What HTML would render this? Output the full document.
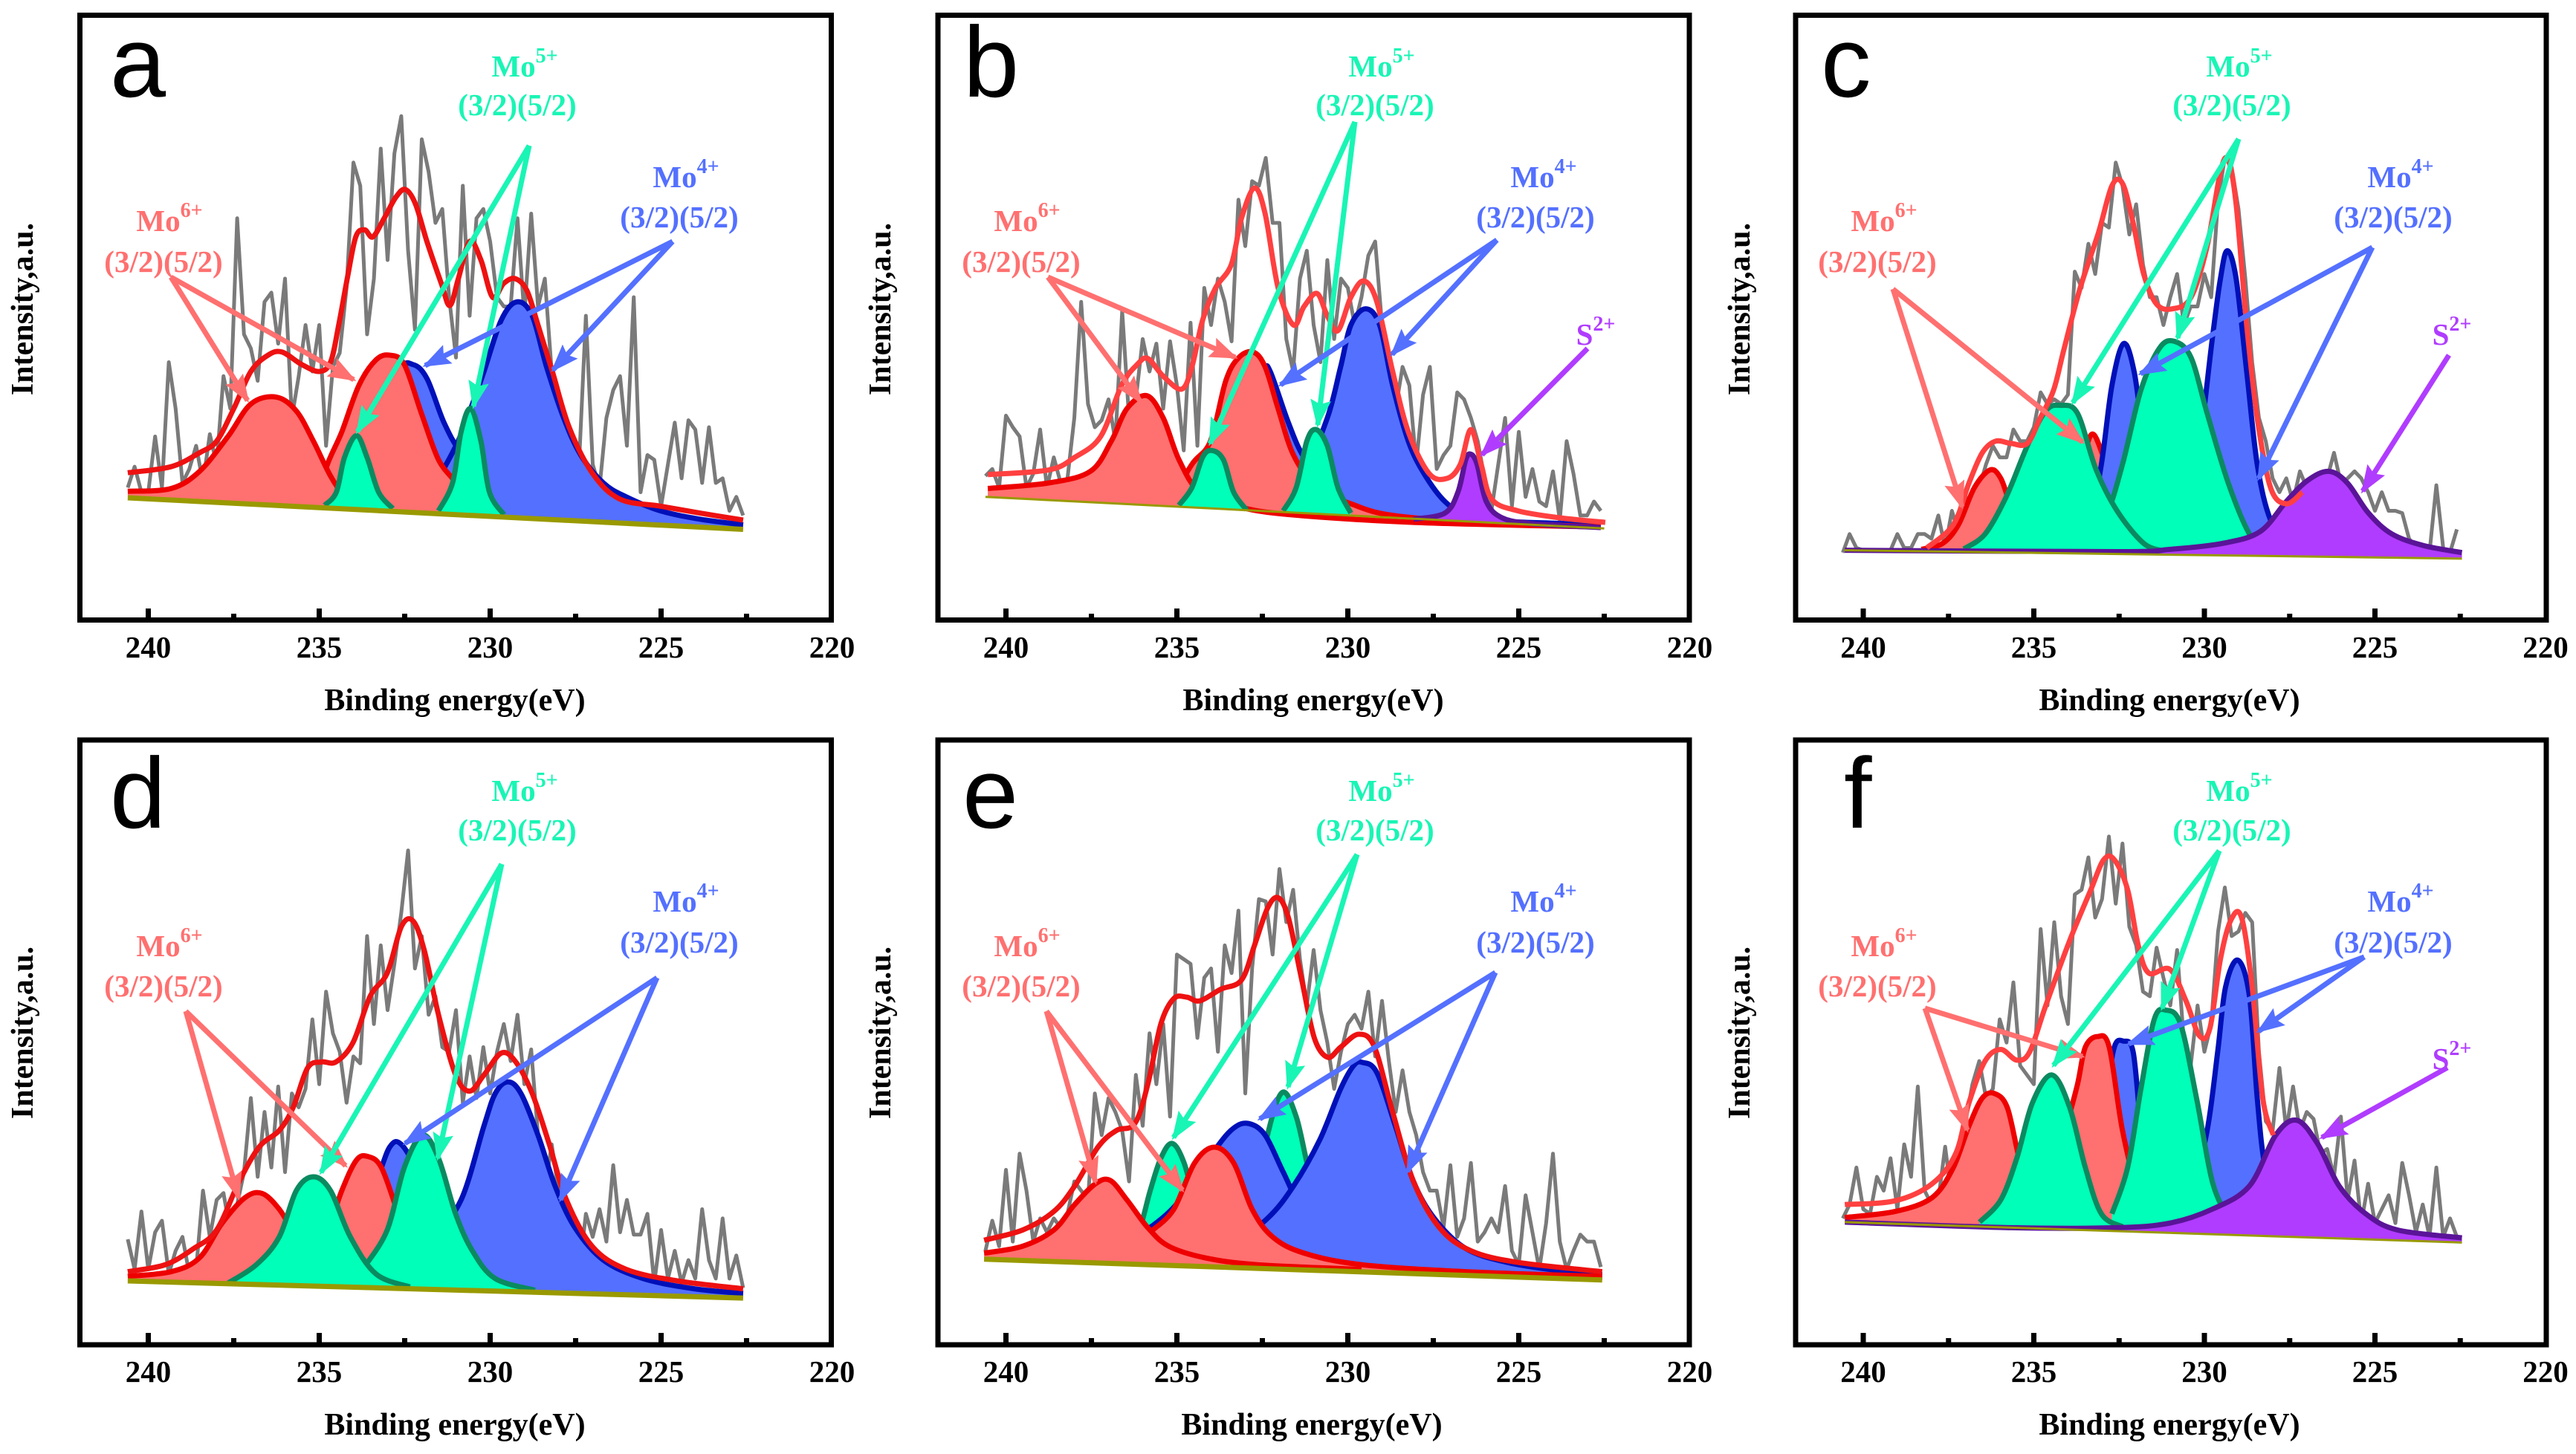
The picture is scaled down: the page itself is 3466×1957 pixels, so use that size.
<!DOCTYPE html>
<html lang="en">
<head>
<meta charset="utf-8">
<title>Mo 3d XPS spectra, panels a to f</title>
<style>
html,body{margin:0;padding:0;background:#fff}
svg{display:block}
text{font-family:"Liberation Serif",serif;font-weight:bold;font-size:41px}
.axis-title{font-size:42px}
.letter{font-family:"Liberation Sans",sans-serif;font-weight:normal;font-size:135px;fill:#000}
.sup{font-size:28px}
.m6{fill:#ff7070}.m5{fill:#19f5b5}.m4{fill:#5470ff}.s2{fill:#b03cff}
.frame{fill:none;stroke:#000;stroke-width:7}
.a6{stroke:#ff7070;stroke-width:7;marker-end:url(#head6)}
.a5{stroke:#19f5b5;stroke-width:7;marker-end:url(#head5)}
.a4{stroke:#5470ff;stroke-width:7;marker-end:url(#head4)}
.as{stroke:#b03cff;stroke-width:7;marker-end:url(#heads)}
</style>
</head>
<body>
<svg xmlns="http://www.w3.org/2000/svg" width="3466" height="1957" viewBox="0 0 3466 1957">
<defs>
<marker id="head6" markerUnits="userSpaceOnUse" viewBox="0 0 38 28" refX="34" refY="14" markerWidth="38" markerHeight="28" orient="auto"><path d="M0,0L38,14L0,28L6,14Z" fill="#ff7070"/></marker>
<marker id="head5" markerUnits="userSpaceOnUse" viewBox="0 0 38 28" refX="34" refY="14" markerWidth="38" markerHeight="28" orient="auto"><path d="M0,0L38,14L0,28L6,14Z" fill="#19f5b5"/></marker>
<marker id="head4" markerUnits="userSpaceOnUse" viewBox="0 0 38 28" refX="34" refY="14" markerWidth="38" markerHeight="28" orient="auto"><path d="M0,0L38,14L0,28L6,14Z" fill="#5470ff"/></marker>
<marker id="heads" markerUnits="userSpaceOnUse" viewBox="0 0 38 28" refX="34" refY="14" markerWidth="38" markerHeight="28" orient="auto"><path d="M0,0L38,14L0,28L6,14Z" fill="#b03cff"/></marker>
</defs>

<g>
<g id="marks-a"></g>
<rect class="frame" x="107.5" y="20.5" width="1011" height="814"/>
<g id="axis-a"></g>
<text class="letter" x="148" y="130">a</text>
<text class="axis-title" text-anchor="middle" x="612" y="956">Binding energy(eV)</text>
<text class="axis-title" text-anchor="middle" transform="translate(44 416) rotate(-90)">Intensity,a.u.</text>
<g>
<line class="a6" x1="230" y1="373" x2="333" y2="539"/><line class="a6" x1="230" y1="373" x2="476" y2="511"/>
<line class="a5" x1="712" y1="196" x2="481" y2="581"/><line class="a5" x1="712" y1="196" x2="637" y2="547"/>
<line class="a4" x1="905" y1="325" x2="572" y2="492"/><line class="a4" x1="905" y1="325" x2="744" y2="498"/>
</g>
<text class="m6" text-anchor="middle" x="228" y="311">Mo<tspan class="sup" dy="-19">6+</tspan></text>
<text class="m6" text-anchor="middle" x="220" y="366">(3/2)(5/2)</text>
<text class="m5" text-anchor="middle" x="706" y="103">Mo<tspan class="sup" dy="-19">5+</tspan></text>
<text class="m5" text-anchor="middle" x="696" y="155">(3/2)(5/2)</text>
<text class="m4" text-anchor="middle" x="923" y="252">Mo<tspan class="sup" dy="-19">4+</tspan></text>
<text class="m4" text-anchor="middle" x="914" y="306">(3/2)(5/2)</text>
</g>

<g>
<g id="marks-b"></g>
<rect class="frame" x="1262" y="20.5" width="1011" height="814"/>
<g id="axis-b"></g>
<text class="letter" x="1296" y="130">b</text>
<text class="axis-title" text-anchor="middle" x="1767" y="956">Binding energy(eV)</text>
<text class="axis-title" text-anchor="middle" transform="translate(1198 416) rotate(-90)">Intensity,a.u.</text>
<g>
<line class="a6" x1="1410" y1="373" x2="1535" y2="541"/><line class="a6" x1="1410" y1="373" x2="1662" y2="481"/>
<line class="a5" x1="1823" y1="164" x2="1628" y2="597"/><line class="a5" x1="1823" y1="164" x2="1773" y2="572"/>
<line class="a4" x1="2014" y1="323" x2="1723" y2="518"/><line class="a4" x1="2014" y1="323" x2="1873" y2="477"/>
<line class="as" x1="2136" y1="469" x2="1994" y2="612"/>
</g>
<text class="m6" text-anchor="middle" x="1382" y="311">Mo<tspan class="sup" dy="-19">6+</tspan></text>
<text class="m6" text-anchor="middle" x="1374" y="366">(3/2)(5/2)</text>
<text class="m5" text-anchor="middle" x="1859" y="103">Mo<tspan class="sup" dy="-19">5+</tspan></text>
<text class="m5" text-anchor="middle" x="1850" y="155">(3/2)(5/2)</text>
<text class="m4" text-anchor="middle" x="2077" y="252">Mo<tspan class="sup" dy="-19">4+</tspan></text>
<text class="m4" text-anchor="middle" x="2066" y="306">(3/2)(5/2)</text>
<text class="s2" text-anchor="middle" x="2147" y="464">S<tspan class="sup" dy="-19">2+</tspan></text>
</g>

<g>
<g id="marks-c"></g>
<rect class="frame" x="2416" y="20.5" width="1010" height="814"/>
<g id="axis-c"></g>
<text class="letter" x="2450" y="130">c</text>
<text class="axis-title" text-anchor="middle" x="2919" y="956">Binding energy(eV)</text>
<text class="axis-title" text-anchor="middle" transform="translate(2354 416) rotate(-90)">Intensity,a.u.</text>
<g>
<line class="a6" x1="2547" y1="389" x2="2640" y2="682"/><line class="a6" x1="2547" y1="389" x2="2802" y2="595"/>
<line class="a5" x1="3012" y1="187" x2="2789" y2="542"/><line class="a5" x1="3012" y1="187" x2="2930" y2="455"/>
<line class="a4" x1="3192" y1="333" x2="2880" y2="503"/><line class="a4" x1="3192" y1="333" x2="3039" y2="644"/>
<line class="as" x1="3295" y1="478" x2="3179" y2="661"/>
</g>
<text class="m6" text-anchor="middle" x="2535" y="311">Mo<tspan class="sup" dy="-19">6+</tspan></text>
<text class="m6" text-anchor="middle" x="2526" y="366">(3/2)(5/2)</text>
<text class="m5" text-anchor="middle" x="3013" y="103">Mo<tspan class="sup" dy="-19">5+</tspan></text>
<text class="m5" text-anchor="middle" x="3003" y="155">(3/2)(5/2)</text>
<text class="m4" text-anchor="middle" x="3230" y="252">Mo<tspan class="sup" dy="-19">4+</tspan></text>
<text class="m4" text-anchor="middle" x="3220" y="306">(3/2)(5/2)</text>
<text class="s2" text-anchor="middle" x="3299" y="464">S<tspan class="sup" dy="-19">2+</tspan></text>
</g>

<g>
<g id="marks-d"></g>
<rect class="frame" x="107.5" y="996" width="1011" height="814"/>
<g id="axis-d"></g>
<text class="letter" x="148" y="1114">d</text>
<text class="axis-title" text-anchor="middle" x="612" y="1931">Binding energy(eV)</text>
<text class="axis-title" text-anchor="middle" transform="translate(44 1390) rotate(-90)">Intensity,a.u.</text>
<g>
<line class="a6" x1="250" y1="1361" x2="321" y2="1612"/><line class="a6" x1="250" y1="1361" x2="465" y2="1569"/>
<line class="a5" x1="675" y1="1163" x2="432" y2="1578"/><line class="a5" x1="675" y1="1163" x2="589" y2="1559"/>
<line class="a4" x1="884" y1="1316" x2="545" y2="1539"/><line class="a4" x1="884" y1="1316" x2="754" y2="1615"/>
</g>
<text class="m6" text-anchor="middle" x="228" y="1287">Mo<tspan class="sup" dy="-19">6+</tspan></text>
<text class="m6" text-anchor="middle" x="220" y="1341">(3/2)(5/2)</text>
<text class="m5" text-anchor="middle" x="706" y="1078">Mo<tspan class="sup" dy="-19">5+</tspan></text>
<text class="m5" text-anchor="middle" x="696" y="1131">(3/2)(5/2)</text>
<text class="m4" text-anchor="middle" x="923" y="1227">Mo<tspan class="sup" dy="-19">4+</tspan></text>
<text class="m4" text-anchor="middle" x="914" y="1282">(3/2)(5/2)</text>
</g>

<g>
<g id="marks-e"></g>
<rect class="frame" x="1262" y="996" width="1011" height="814"/>
<g id="axis-e"></g>
<text class="letter" x="1295" y="1114">e</text>
<text class="axis-title" text-anchor="middle" x="1765" y="1931">Binding energy(eV)</text>
<text class="axis-title" text-anchor="middle" transform="translate(1198 1390) rotate(-90)">Intensity,a.u.</text>
<g>
<line class="a6" x1="1408" y1="1361" x2="1474" y2="1591"/><line class="a6" x1="1408" y1="1361" x2="1591" y2="1602"/>
<line class="a5" x1="1826" y1="1150" x2="1579" y2="1531"/><line class="a5" x1="1826" y1="1150" x2="1733" y2="1463"/>
<line class="a4" x1="2012" y1="1309" x2="1695" y2="1506"/><line class="a4" x1="2012" y1="1309" x2="1894" y2="1577"/>
</g>
<text class="m6" text-anchor="middle" x="1382" y="1287">Mo<tspan class="sup" dy="-19">6+</tspan></text>
<text class="m6" text-anchor="middle" x="1374" y="1341">(3/2)(5/2)</text>
<text class="m5" text-anchor="middle" x="1859" y="1078">Mo<tspan class="sup" dy="-19">5+</tspan></text>
<text class="m5" text-anchor="middle" x="1850" y="1131">(3/2)(5/2)</text>
<text class="m4" text-anchor="middle" x="2077" y="1227">Mo<tspan class="sup" dy="-19">4+</tspan></text>
<text class="m4" text-anchor="middle" x="2066" y="1282">(3/2)(5/2)</text>
</g>

<g>
<g id="marks-f"></g>
<rect class="frame" x="2416" y="996" width="1010" height="814"/>
<g id="axis-f"></g>
<text class="letter" x="2481" y="1114">f</text>
<text class="axis-title" text-anchor="middle" x="2919" y="1931">Binding energy(eV)</text>
<text class="axis-title" text-anchor="middle" transform="translate(2354 1390) rotate(-90)">Intensity,a.u.</text>
<g>
<line class="a6" x1="2590" y1="1357" x2="2647" y2="1521"/><line class="a6" x1="2590" y1="1357" x2="2802" y2="1422"/>
<line class="a5" x1="2986" y1="1145" x2="2763" y2="1434"/><line class="a5" x1="2986" y1="1145" x2="2909" y2="1357"/>
<line class="a4" x1="3181" y1="1288" x2="2864" y2="1405"/><line class="a4" x1="3181" y1="1288" x2="3039" y2="1388"/>
<line class="as" x1="3293" y1="1437" x2="3124" y2="1531"/>
</g>
<text class="m6" text-anchor="middle" x="2535" y="1287">Mo<tspan class="sup" dy="-19">6+</tspan></text>
<text class="m6" text-anchor="middle" x="2526" y="1341">(3/2)(5/2)</text>
<text class="m5" text-anchor="middle" x="3013" y="1078">Mo<tspan class="sup" dy="-19">5+</tspan></text>
<text class="m5" text-anchor="middle" x="3003" y="1131">(3/2)(5/2)</text>
<text class="m4" text-anchor="middle" x="3230" y="1227">Mo<tspan class="sup" dy="-19">4+</tspan></text>
<text class="m4" text-anchor="middle" x="3220" y="1282">(3/2)(5/2)</text>
<text class="s2" text-anchor="middle" x="3299" y="1439">S<tspan class="sup" dy="-19">2+</tspan></text>
</g>
</svg>

<script>
// Axis categories
const tickValues = [240,237.5,235,232.5,230,227.5,225,222.5,220];
const tickLabels = ['240','','235','','230','','225','','220'];
const energyGrid = [240.6,240.4,240.2,240,239.8,239.6,239.4,239.2,239,238.8,
238.6,238.4,238.2,238,237.8,237.6,237.4,237.2,237,236.8,
236.6,236.4,236.2,236,235.8,235.6,235.4,235.2,235,234.8,
234.6,234.4,234.2,234,233.8,233.6,233.4,233.2,233,232.8,
232.6,232.4,232.2,232,231.8,231.6,231.4,231.2,231,230.8,
230.6,230.4,230.2,230,229.8,229.6,229.4,229.2,229,228.8,
228.6,228.4,228.2,228,227.8,227.6,227.4,227.2,227,226.8,
226.6,226.4,226.2,226,225.8,225.6,225.4,225.2,225,224.8,
224.6,224.4,224.2,224,223.8,223.6,223.4,223.2,223,222.8,222.6];

// Raw spectra (intensity on energyGrid)
const aSpectrum = [286,331,276,276,396,286,556,456,296,326,
376,296,401,336,526,456,866,616,586,516,
686,706,596,736,436,526,636,536,636,376,
546,576,716,986,936,616,736,1016,776,1006,
1086,796,626,1036,966,856,886,696,566,936,
656,866,886,816,696,676,676,866,656,876,
676,736,536,336,326,336,336,656,336,286,
436,496,526,376,696,276,356,346,246,336,
426,306,431,411,296,416,296,306,236,266,226];
const bSpectrum = [311,326,286,441,416,396,286,316,411,286,
351,296,306,436,686,466,416,431,476,386,
666,436,476,606,536,596,456,601,506,366,
641,376,716,636,736,686,601,906,806,946,
936,996,856,856,606,536,736,796,636,556,
776,606,736,716,636,696,786,816,636,536,
456,546,506,336,486,546,326,356,376,491,
476,436,386,306,236,336,436,246,406,266,
326,256,246,321,216,386,316,226,226,256,236];
const cSpectrum = [146,186,156,151,151,151,151,151,186,156,
156,186,186,176,226,156,236,186,266,246,
286,336,376,351,351,411,386,386,416,491,
466,476,466,486,751,716,811,746,856,846,
986,936,831,896,766,696,696,636,696,746,
636,676,676,746,696,906,996,976,886,736,
556,436,386,306,276,306,256,321,286,276,
316,306,361,296,306,321,306,276,236,276,
236,236,231,176,156,151,146,291,156,146,196];
const dSpectrum = [228,163,288,163,243,268,153,203,233,153,
163,333,233,313,328,243,303,373,533,363,
503,383,558,373,543,513,553,703,563,763,
673,633,523,623,608,883,693,863,723,823,
933,1068,813,883,713,753,643,633,723,523,
623,533,643,543,633,693,613,713,563,638,
453,333,433,333,293,233,153,283,233,293,
223,388,243,313,238,238,283,133,248,143,
203,133,183,143,293,183,143,273,143,193,123];
const eSpectrum = [203,268,213,378,223,413,333,223,273,243,
273,253,283,353,333,313,543,453,533,503,
463,353,583,473,673,563,693,493,843,833,
823,663,793,813,633,863,803,938,543,813,
963,958,843,1028,913,983,833,733,853,723,
653,553,633,693,713,683,763,623,743,613,
503,593,503,453,373,333,333,253,388,233,
273,393,223,243,273,243,343,203,173,323,
243,163,263,413,223,163,203,238,223,223,168];
const fSpectrum = [273,303,383,293,283,363,333,403,293,433,
363,558,333,303,313,428,313,323,483,563,
613,533,553,703,653,783,603,583,563,898,
733,913,753,693,973,983,1053,923,963,1098,
953,1083,903,863,763,753,858,793,733,853,
653,603,733,633,693,893,988,883,893,933,
913,633,483,463,598,463,558,463,503,488,
413,423,363,493,313,398,263,348,263,293,
323,263,393,323,243,303,233,383,233,273,233];

// Panel a fits
const aBaseEv = [240.6,222.6];
const aBaseInt = [264,196];
const aMo4aEv = [235.0,233.68,232.68,232.26,231.85,231.35,230.85,230.0,229.35,228.35,226.85,225.2,222.7];
const aMo4aInt = [251,386,536,551,521,426,361,296,268,241,221,211,203];
const aMo4bEv = [232.68,231.68,231.0,230.52,230.18,229.68,229.22,228.77,228.35,227.85,227.35,226.69,226.02,225.02,223.86,222.6];
const aMo4bInt = [251,296,376,466,536,646,686,656,546,436,356,296,266,236,218,206];
const aMo6aEv = [240.6,239.33,238.5,237.67,237.0,236.26,235.67,235.17,234.67,234.17,234.0];
const aMo6aInt = [278,284,321,396,466,481,451,386,311,256,246];
const aMo6bEv = [235.17,234.76,234.34,233.84,233.34,232.93,232.51,232.01,231.51,231.0,230.5];
const aMo6bInt = [241,336,406,506,561,571,551,446,346,296,236];
const aMo5aEv = [234.84,234.5,234.26,233.91,233.6,233.26,232.85];
const aMo5aInt = [248,276,351,398,351,276,241];
const aMo5bEv = [231.51,231.1,230.85,230.57,230.27,230.02,229.6];
const aMo5bInt = [236,296,406,456,386,276,228];
const aEnvEv = [240.6,239.33,238.5,238,237.5,237,236.5,236.09,235.51,235,234.67,234.43,234.18,233.93,233.67,233.43,233.1,232.76,232.48,232.18,231.85,231.43,231.18,230.93,230.6,230.27,229.93,229.6,229.27,228.93,228.6,228.18,227.69,227,226.2,225.02,223.86,222.6];
const aEnvInt = [318,331,361,386,456,536,571,578,551,536,556,636,736,826,841,826,866,911,928,896,816,726,678,736,816,776,696,726,736,711,636,536,416,316,261,246,231,216];

// Panel b fits
const bBaseEv = [240.6,222.5];
const bBaseInt = [266,198];
const bMo4aEv = [235.24,234.18,233.26,232.5,232.27,231.74,231.28,230.52,228.08,222.6];
const bMo4aInt = [251,356,536,546,536,426,351,286,226,206];
const bMo4bEv = [232.35,231.28,230.6,230.21,229.91,229.48,229.07,228.69,228.23,227.77,227.16,226.55,225.03,222.6];
const bMo4bInt = [266,326,436,546,636,671,636,506,386,316,256,231,211,203];
const bMo6aEv = [240.53,238.75,237.53,236.92,236.46,235.88,235.4,234.94,234.33,233.26,231.74,228.08,222.6];
const bMo6aInt = [284,296,321,386,456,484,436,346,276,246,228,211,201];
const bMo6bEv = [235.24,234.56,234.02,233.57,233.19,232.77,232.42,232.04,231.59,230.98,229.91,228.08,222.6];
const bMo6bInt = [251,336,386,516,566,578,546,456,356,296,251,221,201];
const bMo5aEv = [234.94,234.56,234.25,233.98,233.64,233.34,232.96];
const bMo5aInt = [248,286,351,366,346,276,238];
const bMo5bEv = [231.89,231.51,231.2,230.93,230.6,230.29,229.91];
const bMo5bInt = [236,286,386,411,376,286,231];
const bS2Ev = [228.08,227.16,226.78,226.55,226.4,226.22,225.95,225.49,224.57,222.6];
const bS2Int = [218,231,276,346,358,336,256,221,208,200];
const bEnvEv = [240.53,238.75,237.99,237.23,236.62,236.16,235.85,235.4,234.86,234.56,234.25,233.87,233.41,233.11,232.73,232.42,232.04,231.59,231.28,230.9,230.6,230.29,229.91,229.53,229.15,228.69,228.23,227.62,227.09,226.71,226.4,226.1,225.79,225.03,223.81,222.47];
const bEnvInt = [314,324,351,396,506,551,564,526,498,546,646,716,766,866,931,876,716,636,676,704,656,624,696,731,686,536,406,316,306,336,411,336,261,236,221,211];

// Panel c fits
const cBaseEv = [240.55,222.45];
const cBaseInt = [151,133];
const cMo6aEv = [238.29,237.67,237.21,236.74,236.28,235.97,235.66,235.19,234.57];
const cMo6aInt = [153,166,206,286,324,306,246,186,154];
const cMo6bEv = [234.26,233.8,233.49,233.26,232.95,232.56,232.09,231.47];
const cMo6bInt = [166,276,366,401,351,276,186,151];
const cMo4aEv = [233.49,233.02,232.71,232.37,232.06,231.78,231.47,231.01];
const cMo4aInt = [151,336,506,596,536,386,236,151];
const cMo4bEv = [230.85,230.23,229.77,229.53,229.33,229.07,228.76,228.45,228.06,227.44];
const cMo4bInt = [151,336,606,736,796,736,536,336,216,146];
const cMo5aEv = [237.05,236.43,235.81,235.19,234.65,234.22,233.72,233.18,232.56,231.78,231.16];
const cMo5aInt = [154,186,266,376,451,463,446,326,236,166,149];
const cMo5bEv = [233.49,232.87,232.4,231.86,231.32,230.88,230.39,229.92,229.3,228.68,228.14];
const cMo5bInt = [149,226,336,496,586,601,566,446,296,186,146];
const cS2Ev = [240.54,232.56,231.01,229.46,228.37,227.6,226.98,226.36,225.81,225.19,224.5,223.57,222.45];
const cS2Int = [151,148,153,166,191,256,301,321,296,231,186,161,146];
const cEnvEv = [238.14,237.36,236.9,236.51,236.12,235.66,235.19,234.81,234.42,234.11,233.64,233.1,232.71,232.4,232.09,231.78,231.4,230.93,230.39,229.92,229.53,229.3,229.07,228.76,228.45,228.06,227.6,227.13];
const cEnvInt = [156,206,296,361,386,381,381,436,496,586,716,836,936,941,856,746,681,671,696,806,966,991,896,636,436,286,251,276];

// Panel d fits
const dBaseEv = [240.6,222.6];
const dBaseInt = [138,101];
const dMo4aEv = [234.34,233.34,232.93,232.6,232.1,231.51,230.85,230.02,228.52,226.02,222.6];
const dMo4aInt = [183,353,428,433,373,283,213,168,143,125,111];
const dMo4bEv = [232.68,231.68,230.85,230.18,229.85,229.48,229.1,228.6,228.1,227.52,226.69,225.52,224.03,222.6];
const dMo4bInt = [173,233,313,473,543,568,543,453,343,253,183,143,121,111];
const dMo6aEv = [240.6,239.33,238.5,237.84,237.17,236.67,236.17,235.67,235.0,234.34];
const dMo6aInt = [148,158,188,263,318,327,293,233,163,138];
const dMo6bEv = [235.67,234.84,234.34,233.92,233.59,233.18,232.68,232.18,231.51];
const dMo6bInt = [143,233,333,398,407,383,283,203,143];
const dMo5aEv = [237.67,236.84,236.17,235.67,235.17,234.67,234.09,233.34,232.35];
const dMo5aInt = [133,173,233,333,363,333,233,153,125];
const dMo5bEv = [233.68,233.01,232.51,231.98,231.51,231.01,230.52,229.85,228.69];
const dMo5bInt = [168,248,383,453,403,283,203,143,118];
const dEnvEv = [240.6,239.5,238.67,238,237.34,236.75,236.17,235.76,235.34,234.93,234.51,234.01,233.51,233.01,232.6,232.26,231.93,231.51,231.01,230.6,230.18,229.68,229.27,228.77,228.27,227.77,227.02,226.02,224.52,222.6];
const dEnvInt = [158,173,208,248,353,428,463,513,598,611,611,653,753,803,903,916,853,713,583,548,583,630,613,543,433,313,213,163,138,121];

// Panel e fits
const eBaseEv = [240.64,222.56];
const eBaseInt = [185,140];
const eMo5aEv = [236.62,236.16,235.78,235.47,235.14,234.79,234.41,233.87,232.96];
const eMo5aInt = [183,233,333,403,435,393,293,213,168];
const eMo5bEv = [233.41,232.8,232.35,231.92,231.51,231.13,230.67,229.91];
const eMo5bInt = [183,283,453,545,493,373,263,183];
const eMo4aEv = [237.23,235.7,234.79,233.87,233.34,232.9,232.42,231.89,231.28,230.52,229.6,228.08,222.56];
const eMo4aInt = [193,258,323,423,468,478,453,373,283,223,188,168,143];
const eMo4bEv = [233.57,232.35,231.59,230.82,230.21,229.83,229.57,229.15,228.61,228.08,227.47,226.55,225.34,223.81,222.56];
const eMo4bInt = [203,273,343,443,553,603,610,588,473,353,273,208,178,160,151];
const eMo6aEv = [240.64,239.51,238.6,237.99,237.38,236.95,236.46,235.85,235.24,234.18,232.65,229.6];
const eMo6aInt = [198,213,248,303,348,355,313,253,213,188,173,163];
const eMo6bEv = [235.7,235.09,234.48,233.9,233.34,232.8,232.2,231.28,229.6,226.55,222.56];
const eMo6bInt = [248,293,393,427,393,293,233,198,173,158,148];
const eEnvEv = [240.64,239.51,238.6,237.99,237.3,236.77,236.23,235.85,235.47,235.09,234.71,234.33,233.72,233.11,232.73,232.35,232.04,231.74,231.36,230.98,230.59,230.21,229.68,229.22,228.69,228.08,227.32,226.4,225.03,222.56];
const eEnvInt = [226,248,288,343,428,463,478,563,693,748,751,743,768,788,863,943,966,923,793,663,621,643,671,643,503,353,253,203,178,158];

// Panel f fits
const fBaseEv = [240.54,222.45];
const fBaseInt = [265,221];
const fMo4aEv = [233.18,232.87,232.64,232.37,232.09,231.86,231.55,231.01];
const fMo4aInt = [333,533,643,656,633,473,333,258];
const fMo4bEv = [231.16,230.39,229.92,229.61,229.38,229.02,228.68,228.45,228.22,227.75];
const fMo4bInt = [263,333,463,633,773,831,753,533,383,258];
const fMo6aEv = [240.54,239.07,237.98,237.36,236.9,236.51,236.16,235.78,235.43,235.04,234.57];
const fMo6aInt = [275,288,318,383,473,533,543,513,403,313,268];
const fMo6bEv = [234.73,234.11,233.72,233.49,233.13,232.79,232.4,231.94,231.32];
const fMo6bInt = [273,453,563,643,666,643,463,333,263];
const fMo5aEv = [236.59,235.97,235.5,235.04,234.47,233.95,233.49,233.02,232.4];
const fMo5aInt = [265,313,403,523,583,513,383,283,255];
const fMo5bEv = [232.71,232.25,231.86,231.47,231.13,230.7,230.23,229.77,229.3];
const fMo5bInt = [283,383,553,703,723,693,533,353,273];
const fS2Ev = [240.54,235.66,232.56,231.01,229.77,228.68,227.91,227.29,226.67,226.05,225.27,224.34,222.45];
const fS2Int = [265,253,253,263,293,343,453,485,433,343,283,248,231];
const fEnvEv = [240.54,239.07,237.98,237.29,236.9,236.43,235.97,235.5,235.12,234.65,233.95,233.33,232.95,232.64,232.25,231.94,231.63,231.01,230.54,230.15,229.84,229.53,229.22,228.91,228.6,228.29,227.98];
const fEnvInt = [303,311,348,413,523,613,638,615,633,733,873,983,1048,1048,983,863,803,811,743,668,683,833,918,923,773,533,453];

const peakStyles = {
  mo6:{fill:'#ff7070',line:'#ee0000'},
  mo5:{fill:'#00ffb8',line:'#0a8a60'},
  mo4:{fill:'#5470ff',line:'#0010b8'},
  s2:{fill:'#b03cff',line:'#5a1498'}
};

const panels = [
 {id:'a',x240:199.5,sx:46,yb:835,sy:.625,spec:aSpectrum,bEv:aBaseEv,bInt:aBaseInt,env:[aEnvEv,aEnvInt],envColor:'#ee1111',baseW:7,
  peaks:[['mo4',aMo4aEv,aMo4aInt],['mo4',aMo4bEv,aMo4bInt],['mo6',aMo6bEv,aMo6bInt],['mo6',aMo6aEv,aMo6aInt],['mo5',aMo5aEv,aMo5aInt],['mo5',aMo5bEv,aMo5bInt]]},
 {id:'b',x240:1353.5,sx:46,yb:835,sy:.625,spec:bSpectrum,bEv:bBaseEv,bInt:bBaseInt,env:[bEnvEv,bEnvInt],envColor:'#ff4040',baseW:3,
  peaks:[['mo4',bMo4aEv,bMo4aInt],['mo4',bMo4bEv,bMo4bInt],['mo6',bMo6bEv,bMo6bInt],['mo6',bMo6aEv,bMo6aInt],['mo5',bMo5aEv,bMo5aInt],['mo5',bMo5bEv,bMo5bInt],['s2',bS2Ev,bS2Int]]},
 {id:'c',x240:2507,sx:45.9,yb:835,sy:.625,spec:cSpectrum,bEv:cBaseEv,bInt:cBaseInt,env:[cEnvEv,cEnvInt],envColor:'#ff4040',baseW:3,
  peaks:[['mo6',cMo6aEv,cMo6aInt],['mo6',cMo6bEv,cMo6bInt],['mo4',cMo4aEv,cMo4aInt],['mo4',cMo4bEv,cMo4bInt],['mo5',cMo5bEv,cMo5bInt],['mo5',cMo5aEv,cMo5aInt],['s2',cS2Ev,cS2Int]]},
 {id:'d',x240:199.5,sx:46,yb:1810,sy:.623,spec:dSpectrum,bEv:dBaseEv,bInt:dBaseInt,env:[dEnvEv,dEnvInt],envColor:'#ee1111',baseW:7,
  peaks:[['mo4',dMo4aEv,dMo4aInt],['mo4',dMo4bEv,dMo4bInt],['mo6',dMo6bEv,dMo6bInt],['mo6',dMo6aEv,dMo6aInt],['mo5',dMo5bEv,dMo5bInt],['mo5',dMo5aEv,dMo5aInt]]},
 {id:'e',x240:1353.5,sx:46,yb:1810,sy:.623,spec:eSpectrum,bEv:eBaseEv,bInt:eBaseInt,env:[eEnvEv,eEnvInt],envColor:'#ee1111',baseW:7,
  peaks:[['mo5',eMo5aEv,eMo5aInt],['mo5',eMo5bEv,eMo5bInt],['mo4',eMo4aEv,eMo4aInt],['mo4',eMo4bEv,eMo4bInt],['mo6',eMo6bEv,eMo6bInt],['mo6',eMo6aEv,eMo6aInt]]},
 {id:'f',x240:2507,sx:45.9,yb:1810,sy:.623,spec:fSpectrum,bEv:fBaseEv,bInt:fBaseInt,env:[fEnvEv,fEnvInt],envColor:'#ff4040',baseW:3,
  peaks:[['mo4',fMo4aEv,fMo4aInt],['mo4',fMo4bEv,fMo4bInt],['mo6',fMo6bEv,fMo6bInt],['mo6',fMo6aEv,fMo6aInt],['mo5',fMo5bEv,fMo5bInt],['mo5',fMo5aEv,fMo5aInt],['s2',fS2Ev,fS2Int]]}
];

const NS = 'http://www.w3.org/2000/svg';
function make(tag){ return document.createElementNS(NS, tag); }
function smoothPath(pts){
  let d = 'M' + pts[0][0].toFixed(1) + ',' + pts[0][1].toFixed(1);
  for(let i = 0; i < pts.length - 1; i++){
    const p0 = pts[Math.max(i-1,0)], p1 = pts[i], p2 = pts[i+1], p3 = pts[Math.min(i+2,pts.length-1)];
    const c1x = p1[0] + (p2[0]-p0[0])/6, c1y = p1[1] + (p2[1]-p0[1])/6;
    const c2x = p2[0] - (p3[0]-p1[0])/6, c2y = p2[1] - (p3[1]-p1[1])/6;
    d += 'C' + c1x.toFixed(1) + ',' + c1y.toFixed(1) + ' ' + c2x.toFixed(1) + ',' + c2y.toFixed(1) + ' ' + p2[0].toFixed(1) + ',' + p2[1].toFixed(1);
  }
  return d;
}

panels.forEach(function(p){
  const xAxis = function(ev){ return p.x240 + (240 - ev) * p.sx; };
  const yAxis = function(v){ return p.yb - v * p.sy; };
  const baseAt = function(ev){
    const t = (ev - p.bEv[0]) / (p.bEv[1] - p.bEv[0]);
    return p.bInt[0] + t * (p.bInt[1] - p.bInt[0]);
  };
  const marks = document.getElementById('marks-' + p.id);
  const axis = document.getElementById('axis-' + p.id);

  const spec = make('polyline');
  
  
  spec.setAttribute('points', p.spec.map(function(v,i){ return xAxis(energyGrid[i]).toFixed(1) + ',' + yAxis(v).toFixed(1); }).join(' '));
  spec.setAttribute('fill', 'none');
  spec.setAttribute('stroke', '#7a7a7a');
  spec.setAttribute('stroke-width', '5');
  spec.setAttribute('stroke-linejoin', 'round');
  marks.appendChild(spec);

  p.peaks.forEach(function(pk){
    const style = peakStyles[pk[0]];
    const ev = pk[1], val = pk[2];
    const pts = ev.map(function(e,i){ return [xAxis(e), yAxis(val[i])]; });
    const curve = smoothPath(pts);
    const first = ev[0], last = ev[ev.length-1];
    const fill = make('path');
    
    
    fill.setAttribute('d', curve + 'L' + xAxis(last).toFixed(1) + ',' + yAxis(baseAt(last)).toFixed(1) + 'L' + xAxis(first).toFixed(1) + ',' + yAxis(baseAt(first)).toFixed(1) + 'Z');
    fill.setAttribute('fill', style.fill);
    marks.appendChild(fill);
    const line = make('path');
    
    
    line.setAttribute('d', curve);
    line.setAttribute('fill', 'none');
    line.setAttribute('stroke', style.line);
    line.setAttribute('stroke-width', '7');
    marks.appendChild(line);
  });

  const env = make('path');
  
  
  env.setAttribute('d', smoothPath(p.env[0].map(function(e,i){ return [xAxis(e), yAxis(p.env[1][i])]; })));
  env.setAttribute('fill', 'none');
  env.setAttribute('stroke', p.envColor);
  env.setAttribute('stroke-width', '7');
  marks.appendChild(env);

  const base = make('line');
  
  
  base.setAttribute('x1', xAxis(p.bEv[0]));
  base.setAttribute('y1', yAxis(p.bInt[0]));
  base.setAttribute('x2', xAxis(p.bEv[1]));
  base.setAttribute('y2', yAxis(p.bInt[1]));
  base.setAttribute('stroke', '#999900');
  base.setAttribute('stroke-width', p.baseW);
  marks.appendChild(base);

  tickValues.forEach(function(t,i){
    if(t === 220) return;
    const major = tickLabels[i] !== '';
    const tick = make('line');
    
    
    tick.setAttribute('x1', xAxis(t));
    tick.setAttribute('x2', xAxis(t));
    tick.setAttribute('y1', p.yb);
    tick.setAttribute('y2', p.yb - (major ? 16 : 9));
    tick.setAttribute('stroke', '#000');
    tick.setAttribute('stroke-width', '7');
    axis.appendChild(tick);
  });
  tickValues.forEach(function(t,i){
    if(tickLabels[i] === '') return;
    const label = make('text');
    
    
    label.setAttribute('x', xAxis(t));
    label.setAttribute('y', p.yb + 50);
    label.setAttribute('text-anchor', 'middle');
    label.textContent = tickLabels[i];
    axis.appendChild(label);
  });
});
</script>
</body>
</html>
